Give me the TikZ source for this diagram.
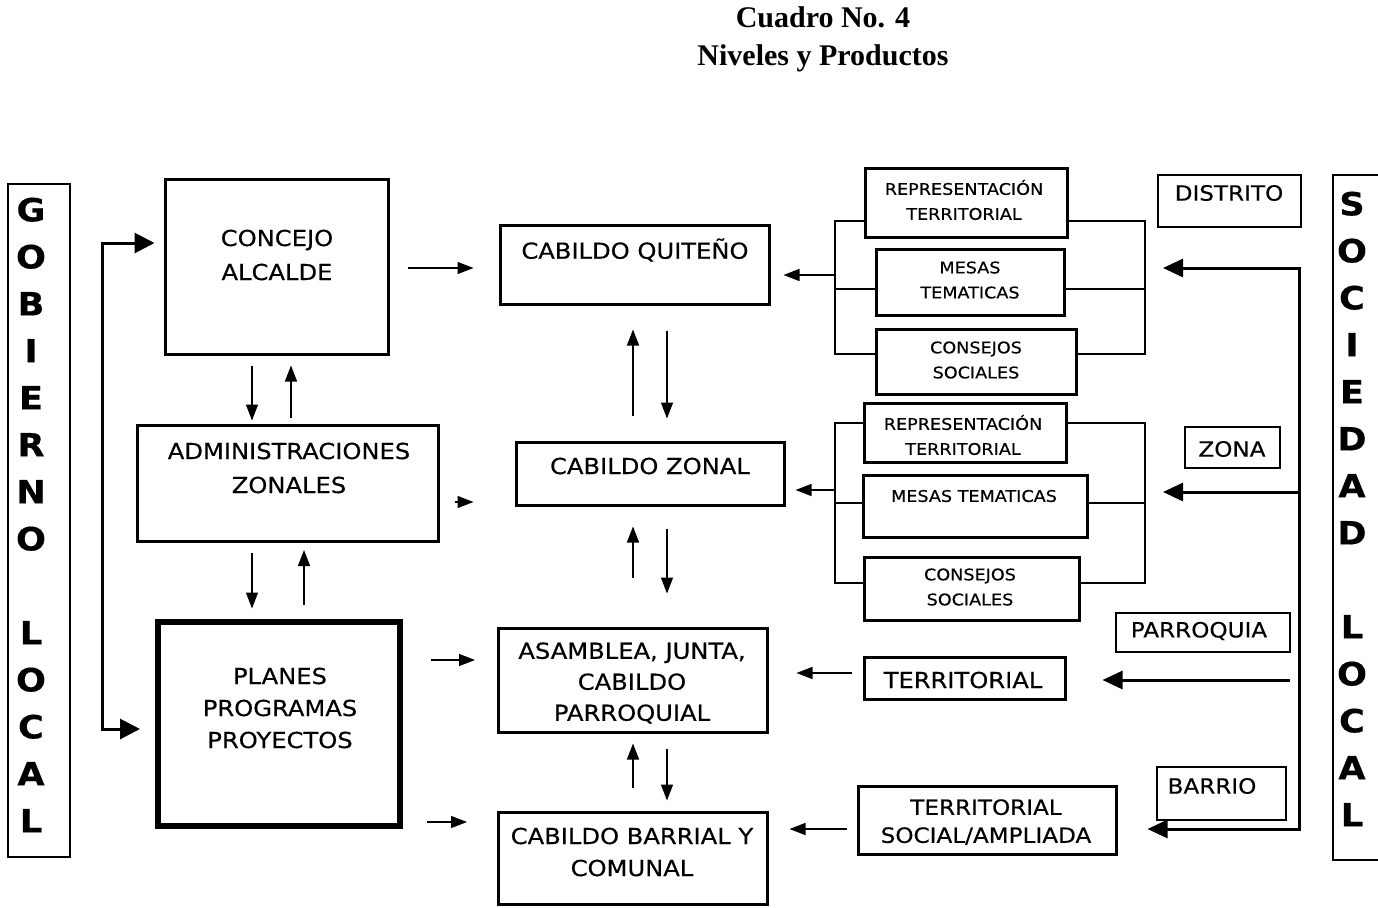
\documentclass[tikz,border=0pt]{standalone}
\usepackage{fontspec}
\setmainfont{Liberation Serif}
\newfontfamily\boxfont[FakeStretch=1.1, FakeBold=0.4]{DejaVu Sans}
\usetikzlibrary{arrows.meta,fit,positioning}

\tikzset{
  mainbox/.style={draw, line width=1.5pt, inner sep=0pt},
  planbox/.style={draw, line width=3pt, inner sep=0pt},
  tagbox/.style={draw, line width=0.6pt, inner sep=0pt},
  bigtxt/.style={align=center, inner sep=0pt, font=\boxfont\fontsize{11}{17}\selectfont},
  tagtxt/.style={align=center, inner sep=0pt, font=\boxfont\fontsize{10.5}{14}\selectfont},
  smalltxt/.style={align=center, inner sep=0pt, font=\boxfont\fontsize{8}{12.5}\selectfont},
  vertxt/.style={align=center, inner sep=0pt, font=\boxfont\bfseries\fontsize{16}{23.5}\selectfont},
  arr/.style={line width=0.7pt, -{Triangle[length=8pt,width=6pt]}},
  bigarr/.style={line width=1.5pt, -{Triangle[length=10pt,width=9pt]}},
  feedarr/.style={line width=1.5pt, {Triangle[length=10pt,width=9pt]}-{Triangle[length=10pt,width=9pt]}},
  sidearr/.style={line width=1.5pt, {Triangle[length=10pt,width=10pt]}-{Triangle[length=10pt,width=10pt]}},
  railline/.style={line width=0.6pt}
}

\begin{document}
\begin{tikzpicture}[x=0.5pt, y=-0.5pt]
  \clip (0,0) rectangle (1378,907);

  % title
  \node[align=center, font=\bfseries\fontsize{15}{19}\selectfont] (title) at (823,39) {Cuadro No. 4\\Niveles y Productos};

  % the two side columns
  \node[tagbox, line width=0.8pt, fit={(8,184) (70,857)}] (gob) {};
  \node[vertxt] (gob-t) at (31,515) {G\\O\\B\\I\\E\\R\\N\\O\\[23.5pt]L\\O\\C\\A\\L};
  \node[tagbox, line width=0.8pt, fit={(1333,175) (1395,860)}] (soc) {};
  \node[vertxt] (soc-t) at (1352,509) {S\\O\\C\\I\\E\\D\\A\\D\\[23.5pt]L\\O\\C\\A\\L};

  % government boxes
  \node[mainbox, fit={(165,179) (388,354)}] (concejo) {};
  \node[bigtxt] (concejo-t) at (277,255) {CONCEJO\\ALCALDE};
  \node[mainbox, fit={(137,425) (438,541)}] (admin) {};
  \node[bigtxt] (admin-t) at (289,468) {ADMINISTRACIONES\\ZONALES};
  \node[planbox, fit={(158,622) (400,826)}] (planes) {};
  \node[bigtxt, font=\boxfont\fontsize{11}{16}\selectfont] (planes-t) at (280,708) {PLANES\\PROGRAMAS\\PROYECTOS};

  % the cabildos
  \node[mainbox, fit={(500,225) (769,304)}] (quiteno) {};
  \node[bigtxt] (quiteno-t) at (635,250) {CABILDO QUITEÑO};
  \node[mainbox, fit={(516,442) (784,505)}] (zonal) {};
  \node[bigtxt] (zonal-t) at (650,466) {CABILDO ZONAL};
  \node[mainbox, fit={(498,628) (767,732)}] (asamblea) {};
  \node[bigtxt, font=\boxfont\fontsize{11}{15.5}\selectfont] (asamblea-t) at (632,683) {ASAMBLEA, JUNTA,\\CABILDO\\PARROQUIAL};
  \node[mainbox, fit={(498,812) (767,904)}] (barrial) {};
  \node[bigtxt, font=\boxfont\fontsize{11}{16}\selectfont] (barrial-t) at (632,852) {CABILDO BARRIAL Y\\COMUNAL};

  % society boxes, district level
  \node[mainbox, fit={(865,168) (1067,237)}] (repA) {};
  \node[smalltxt] (repA-t) at (964,200) {REPRESENTACIÓN\\TERRITORIAL};
  \node[mainbox, fit={(876,249) (1064,315)}] (mesA) {};
  \node[smalltxt] (mesA-t) at (970,280) {MESAS\\TEMATICAS};
  \node[mainbox, fit={(876,329) (1076,394)}] (conA) {};
  \node[smalltxt] (conA-t) at (976,360) {CONSEJOS\\SOCIALES};

  % zone level
  \node[mainbox, fit={(864,403) (1066,462)}] (repB) {};
  \node[smalltxt] (repB-t) at (963,435) {REPRESENTACIÓN\\TERRITORIAL};
  \node[mainbox, fit={(863,475) (1087,537)}] (mesB) {};
  \node[smalltxt] (mesB-t) at (974,496) {MESAS TEMATICAS};
  \node[mainbox, fit={(864,557) (1079,620)}] (conB) {};
  \node[smalltxt] (conB-t) at (970,587) {CONSEJOS\\SOCIALES};

  % parish and neighbourhood level
  \node[mainbox, fit={(864,657) (1065,699)}] (terr) {};
  \node[bigtxt] (terr-t) at (963,680) {TERRITORIAL};
  \node[mainbox, fit={(858,786) (1116,854)}] (terrsoc) {};
  \node[tagtxt] (terrsoc-t) at (986,822) {TERRITORIAL\\SOCIAL/AMPLIADA};

  % level tags
  \node[tagbox, fit={(1158,175) (1301,227)}] (distrito) {};
  \node[tagtxt] (distrito-t) at (1229,193) {DISTRITO};
  \node[tagbox, fit={(1185,427) (1280,468)}] (zona) {};
  \node[tagtxt] (zona-t) at (1232,449) {ZONA};
  \node[tagbox, fit={(1116,613) (1290,652)}] (parroquia) {};
  \node[tagtxt] (parroquia-t) at (1199,631) {PARROQUIA};
  \node[tagbox, fit={(1157,767) (1286,820)}] (barrio) {};
  \node[tagtxt] (barrio-t) at (1212,786) {BARRIO};

  % helper points for rails
  \coordinate (loopT) at (102,243);
  \coordinate (loopB) at (102,729);
  \coordinate (brA) at (835,275);
  \coordinate (brAr) at (1145,289);
  \coordinate (brB) at (835,490);
  \coordinate (brBr) at (1145,503);
  \coordinate (feedA) at (1299,268);
  \coordinate (feedB) at (1299,492);
  \coordinate (feedC) at (1290,680);
  \coordinate (feedD) at (1299,829);

  % left loop
  \draw[sidearr] ([xshift=-4.5pt]concejo.west |- loopT) -- (loopT) -- (loopB) -- ([xshift=-7.5pt]planes.west |- loopB);

  % up and down between government boxes
  \draw[arr] (concejo.south) ++(-24.5,10) -- ++(0,55);
  \draw[arr] (admin.north) ++(3.5,-6) -- ++(0,-52);
  \draw[arr] (admin.south) ++(-35.5,10) -- ++(0,56);
  \draw[arr] (planes.north) ++(25,-14) -- ++(0,-55);

  % government to cabildos
  \draw[arr] (concejo.east) ++(18,1.5) -- ++(66,0);
  \draw[arr] (admin.east) ++(15,19) -- ++(19,0);
  \draw[arr] (planes.east) ++(28,-64) -- ++(44,0);
  \draw[arr] (planes.east) ++(24,98) -- ++(40,0);

  % between cabildos
  \draw[arr] (zonal.north) ++(-17,-25) -- ++(0,-86);
  \draw[arr] (quiteno.south) ++(32.5,25) -- ++(0,88);
  \draw[arr] (asamblea.north) ++(0.5,-49) -- ++(0,-51);
  \draw[arr] (zonal.south) ++(17,22) -- ++(0,65);
  \draw[arr] (barrial.north) ++(0.5,-23) -- ++(0,-44);
  \draw[arr] (asamblea.south) ++(34.5,15) -- ++(0,52);

  % district brackets
  \draw[railline] ([yshift=-9.25pt]repA.west) -| (brA) |- ([yshift=3.75pt]conA.west);
  \draw[railline] ([yshift=-3.5pt]mesA.west) -- ([yshift=-3.5pt]mesA.west -| brA);
  \draw[railline] ([yshift=-9.25pt]repA.east) -| (brAr) |- ([yshift=3.75pt]conA.east);
  \draw[railline] ([yshift=-3.5pt]mesA.east) -- (brAr);
  \draw[arr] (brA) -- ([xshift=6.5pt]quiteno.east |- brA);

  % zone brackets
  \draw[railline] ([yshift=4.75pt]repB.west) -| (brB) |- ([yshift=2.75pt]conB.west);
  \draw[railline] ([yshift=1.5pt]mesB.west) -- ([yshift=1.5pt]mesB.west -| brB);
  \draw[railline] ([yshift=4.75pt]repB.east) -| (brBr) |- ([yshift=2.75pt]conB.east);
  \draw[railline] ([yshift=1.5pt]mesB.east) -- (brBr);
  \draw[arr] (brB) -- ([xshift=5pt]zonal.east |- brB);

  % parish and neighbourhood
  \draw[arr] (terr.west) ++(-11,-5) -- ++(-55,0);
  \draw[arr] (terrsoc.west) ++(-10,9) -- ++(-57,0);

  % society feed
  \draw[feedarr] ([xshift=9pt]brAr |- feedA) -- (feedA) -- (feedD) -- ([xshift=15pt]terrsoc.east |- feedD);
  \draw[bigarr] (feedB) -- ([xshift=9pt]brBr |- feedB);
  \draw[bigarr] (feedC) -- ([xshift=18pt]terr.east |- feedC);
\end{tikzpicture}
\end{document}
